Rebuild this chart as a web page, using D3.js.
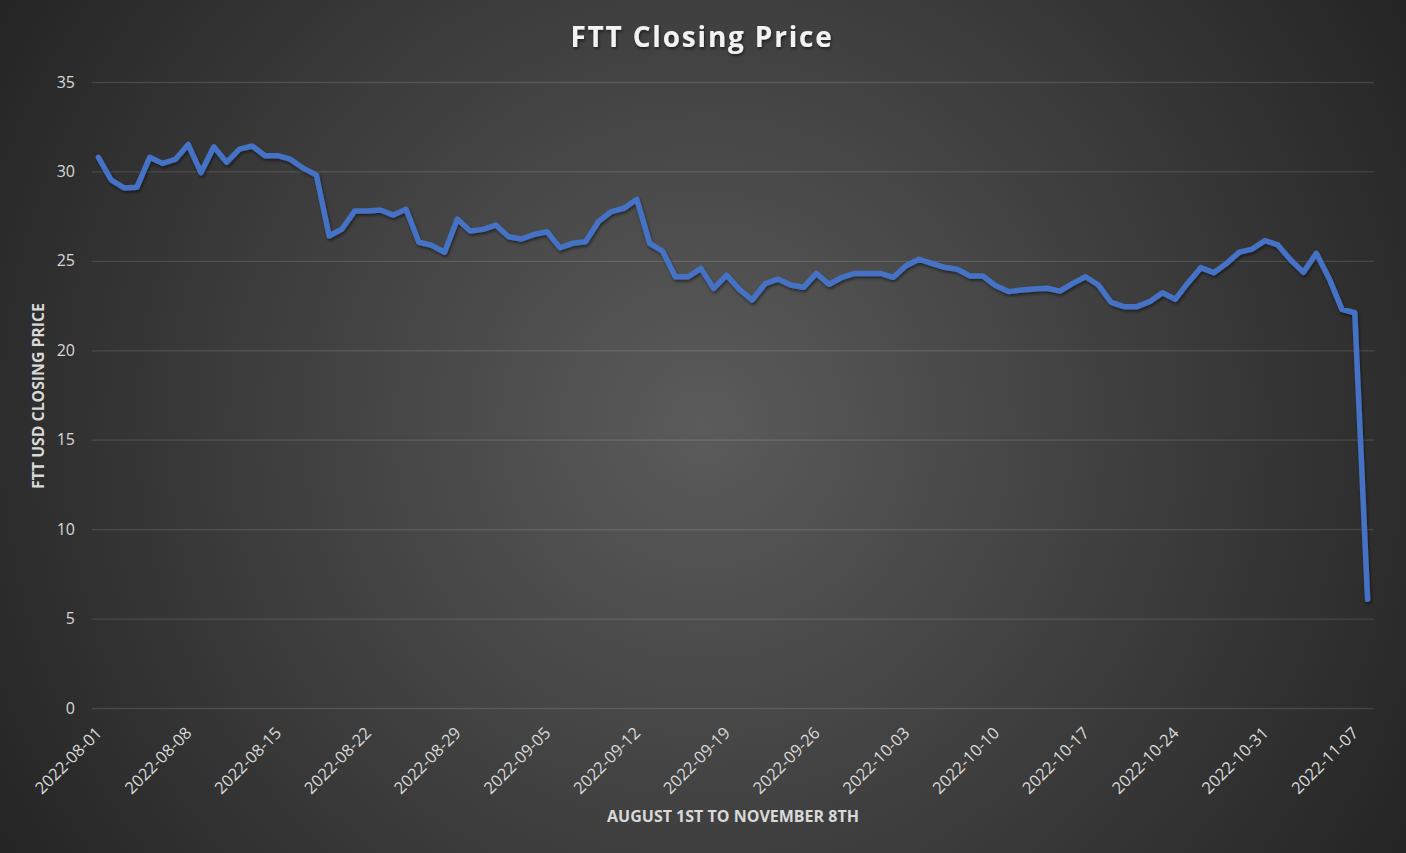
<!DOCTYPE html>
<html lang="en">
<head>
<meta charset="utf-8">
<title>FTT Closing Price</title>
<script src="https://d3js.org/d3.v7.min.js"></script>
<style>
  html, body { margin: 0; padding: 0; background: #262626; }
  svg { display: block; }
</style>
</head>
<body>
<div id="chart"></div>
<script>
// daily closes, 2022-08-01 .. 2022-11-08
var startDay = "2022-08-01";
var closes = [
  30.79, 29.52, 29.08, 29.11, 30.79, 30.45, 30.67, 31.51, 29.93, 31.38,
  30.51, 31.25, 31.42, 30.88, 30.88, 30.67, 30.17, 29.80, 26.39, 26.78,
  27.79, 27.79, 27.84, 27.56, 27.88, 26.04, 25.87, 25.48, 27.34, 26.67,
  26.76, 27.00, 26.35, 26.22, 26.48, 26.63, 25.74, 25.98, 26.07, 27.19,
  27.75, 27.94, 28.44, 25.98, 25.55, 24.11, 24.11, 24.58, 23.46, 24.20,
  23.41, 22.81, 23.72, 23.98, 23.65, 23.52, 24.30, 23.69, 24.08, 24.30,
  24.30, 24.30, 24.08, 24.73, 25.09, 24.86, 24.64, 24.53, 24.15, 24.15,
  23.61, 23.28, 23.37, 23.43, 23.47, 23.31, 23.74, 24.11, 23.65, 22.68,
  22.44, 22.44, 22.72, 23.22, 22.85, 23.78, 24.62, 24.34, 24.86, 25.49,
  25.66, 26.13, 25.89, 25.05, 24.36, 25.42, 24.02, 22.29, 22.10, 6.08
];
var tickLabels = ["2022-08-01", "2022-08-08", "2022-08-15", "2022-08-22", "2022-08-29",
  "2022-09-05", "2022-09-12", "2022-09-19", "2022-09-26", "2022-10-03", "2022-10-10",
  "2022-10-17", "2022-10-24", "2022-10-31", "2022-11-07"];
var yTicks = [0, 5, 10, 15, 20, 25, 30, 35];

var fmt = d3.timeFormat("%Y-%m-%d");
var t0 = d3.timeParse("%Y-%m-%d")(startDay);
var days = closes.map(function(v, i) { return fmt(d3.timeDay.offset(t0, i)); });
var data = closes.map(function(v, i) { return {day: days[i], close: v}; });

var W = 1406, H = 853;
var plot = {left: 92, right: 1374, top: 82, bottom: 708};

var svg = d3.select("#chart").append("svg")
  .attr("width", W).attr("height", H);

var defs = svg.append("defs");
var grad = defs.append("radialGradient").attr("id", "bg")
  .attr("gradientUnits", "userSpaceOnUse")
  .attr("cx", 703).attr("cy", 426).attr("r", 830);
grad.append("stop").attr("offset", "0%").attr("stop-color", "#5b5b5b");
grad.append("stop").attr("offset", "100%").attr("stop-color", "#242424");

var shadow = defs.append("filter").attr("id", "shadow")
  .attr("x", "-5%").attr("y", "-5%").attr("width", "110%").attr("height", "120%");
shadow.append("feDropShadow").attr("dx", 1).attr("dy", 2).attr("stdDeviation", 1.5)
  .attr("flood-color", "#000").attr("flood-opacity", 0.5);

svg.append("rect").attr("width", W).attr("height", H).attr("fill", "url(#bg)");

var x = d3.scalePoint().domain(days).range([plot.left, plot.right]).padding(0.5);
var y = d3.scaleLinear().domain([0, 35]).range([plot.bottom, plot.top]);

// gridlines + y labels
var yAxis = svg.append("g")
  .attr("transform", "translate(" + plot.left + ",0)")
  .call(d3.axisLeft(y).tickValues(yTicks).tickSize(-(plot.right - plot.left)).tickPadding(17));
yAxis.select(".domain").remove();
yAxis.selectAll(".tick line").attr("stroke", "#ffffff").attr("stroke-opacity", 0.12).attr("stroke-width", 1.3);
yAxis.selectAll(".tick text")
  .attr("fill", "#d9d9d9").style("font-family", "'Open Sans', sans-serif").style("font-size", "16px");

// x labels (rotated)
var xAxis = svg.append("g")
  .attr("transform", "translate(0," + plot.bottom + ")")
  .call(d3.axisBottom(x).tickValues(tickLabels).tickSize(0).tickPadding(0));
xAxis.select(".domain").remove();
xAxis.selectAll(".tick text")
  .attr("fill", "#d9d9d9")
  .style("font-family", "'Open Sans', sans-serif").style("font-size", "16.5px")
  .attr("text-anchor", "end")
  .attr("dy", "0.35em")
  .attr("transform", "translate(0,22) rotate(-45)");

// the line
var line = d3.line()
  .x(function(d) { return x(d.day); })
  .y(function(d) { return y(d.close); });

svg.append("path")
  .datum(data)
  .attr("d", line)
  .attr("fill", "none")
  .attr("stroke", "#4472c4")
  .attr("stroke-width", 5.5)
  .attr("stroke-linejoin", "round")
  .attr("stroke-linecap", "round")
  .attr("filter", "url(#shadow)");

// title
svg.append("text")
  .attr("x", 702).attr("y", 47)
  .attr("text-anchor", "middle")
  .attr("fill", "#f2f2f2")
  .attr("filter", "url(#shadow)")
  .style("font-family", "'Open Sans', sans-serif")
  .style("font-weight", "bold")
  .style("font-size", "28px")
  .style("letter-spacing", "1.8px")
  .text("FTT Closing Price");

// axis titles
svg.append("text")
  .attr("x", 733).attr("y", 822)
  .attr("text-anchor", "middle")
  .attr("fill", "#d9d9d9")
  .style("font-family", "'Open Sans', sans-serif")
  .style("font-weight", "bold")
  .style("font-size", "16px")
  .text("AUGUST 1ST TO NOVEMBER 8TH");

svg.append("text")
  .attr("transform", "translate(44,396) rotate(-90)")
  .attr("text-anchor", "middle")
  .attr("fill", "#d9d9d9")
  .style("font-family", "'Open Sans', sans-serif")
  .style("font-weight", "bold")
  .style("font-size", "15.8px")
  .text("FTT USD CLOSING PRICE");
</script>
</body>
</html>
